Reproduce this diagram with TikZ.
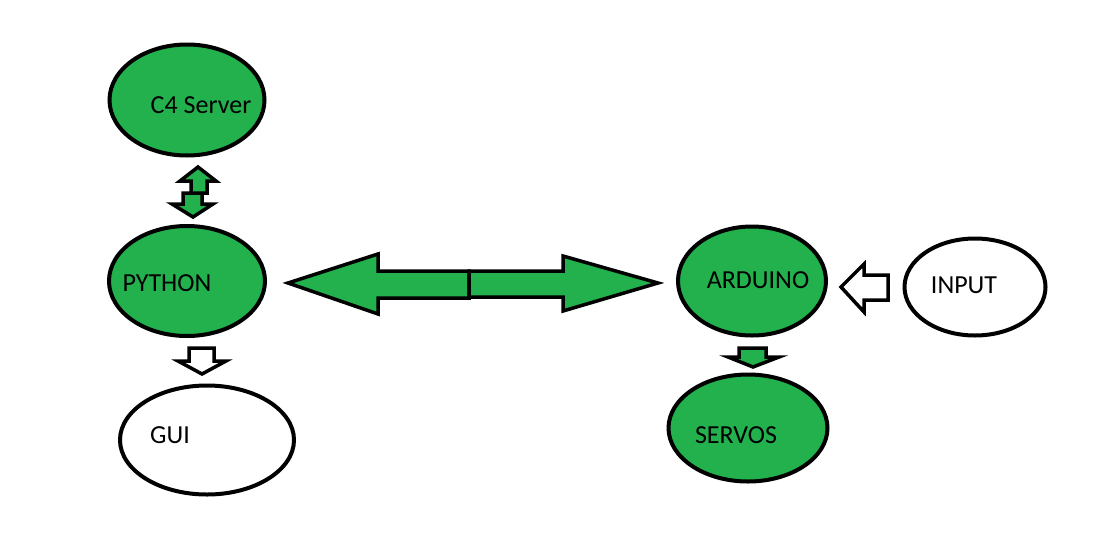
\documentclass[tikz,border=0pt]{standalone}
\usepackage{fontspec}
\setmainfont{Carlito}
\usetikzlibrary{shapes.geometric}
\definecolor{paintgreen}{RGB}{34,177,76}

\begin{document}
\begin{tikzpicture}[x=1pt, y=-1pt, line join=miter,
                    main node/.style={ellipse,draw,line width=4pt,inner sep=0pt,
                        font=\fontsize{26}{30}\selectfont},
                    green node/.style={main node,fill=paintgreen},
                    white node/.style={main node,fill=white},
                    block arrow/.style={draw,line width=3.5pt}]

  \useasboundingbox (0,0) rectangle (1110,533);

  \node[green node, minimum width=155pt, minimum height=111pt,
        label={[xshift=14pt,yshift=-5pt,font=\fontsize{26}{30}\selectfont]center:C4 Server}] (c4) at (187,100) {};
  \node[green node, minimum width=156pt, minimum height=110pt,
        label={[xshift=-20pt,yshift=-2pt,font=\fontsize{26}{30}\selectfont]center:PYTHON}] (python) at (187,281) {};
  \node[white node, minimum width=174pt, minimum height=109pt,
        label={[xshift=-37pt,yshift=5pt,font=\fontsize{26}{30}\selectfont]center:GUI}] (gui) at (207,440) {};
  \node[green node, minimum width=148pt, minimum height=109pt,
        label={[xshift=6pt,yshift=1pt,font=\fontsize{26}{30}\selectfont]center:ARDUINO}] (arduino) at (752,281) {};
  \node[white node, minimum width=141pt, minimum height=97pt,
        label={[xshift=-11pt,yshift=2pt,font=\fontsize{26}{30}\selectfont]center:INPUT}] (input) at (975,287) {};
  \node[green node, minimum width=159pt, minimum height=107pt,
        label={[xshift=-12pt,yshift=-7pt,font=\fontsize{26}{30}\selectfont]center:SERVOS}] (servos) at (748,428) {};

  % c4 <-> python
  \draw[block arrow, fill=paintgreen] (183,193) -- (202,193) -- (202,204) -- (213,204)
      -- (193,217) -- (172,204) -- (183,204) -- cycle;
  \draw[block arrow, fill=paintgreen] (191,193) -- (191,181) -- (180,181) -- (198,167)
      -- (216,181) -- (207,181) -- (207,193) -- cycle;

  % python -> gui
  \draw[block arrow, fill=white] (189,348) -- (214,348) -- (214,361) -- (226,361)
      -- (202,374) -- (178,361) -- (189,361) -- cycle;

  % python <-> arduino
  \draw[block arrow, fill=paintgreen] (469,271) -- (378,271) -- (378,254) -- (288,283)
      -- (378,314) -- (378,298) -- (469,298) -- cycle;
  \draw[block arrow, fill=paintgreen] (469,271) -- (563,271) -- (563,256) -- (658,283)
      -- (563,311) -- (563,297) -- (469,297) -- cycle;

  % input -> arduino
  \draw[block arrow, fill=white] (888,275) -- (864,275) -- (864,264) -- (841,287)
      -- (864,312) -- (864,300) -- (888,300) -- cycle;

  % arduino -> servos
  \draw[block arrow, fill=paintgreen] (739,348) -- (766,348) -- (766,357) -- (779,357)
      -- (753,367) -- (728,357) -- (739,357) -- cycle;

\end{tikzpicture}
\end{document}
